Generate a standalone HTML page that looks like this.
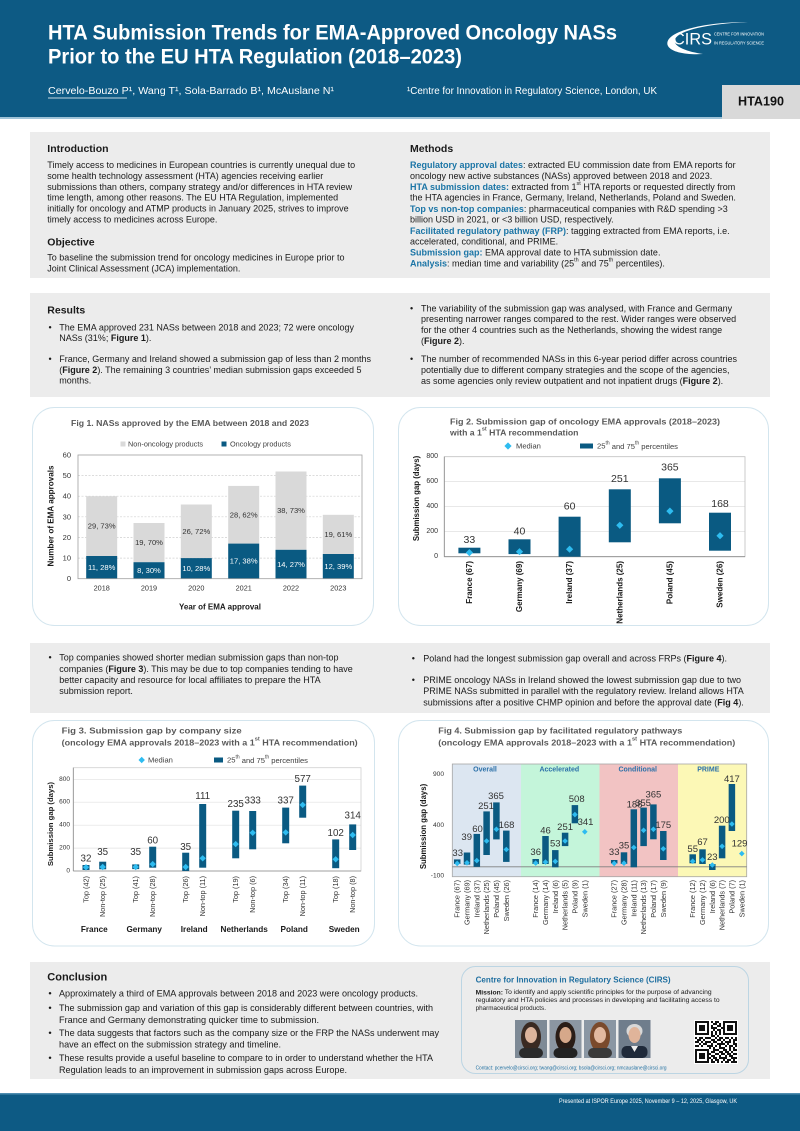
<!DOCTYPE html>
<html><head><meta charset="utf-8">
<style>
html,body{margin:0;padding:0;background:#fff;}
body{width:800px;height:1131px;overflow:hidden;}
svg{display:block;font-family:"Liberation Sans",Arial,sans-serif;}
text{dominant-baseline:central;}
</style></head><body>
<svg width="800" height="1131" viewBox="0 0 800 1131" xmlns="http://www.w3.org/2000/svg">
<defs>
<path id="d2" d="M0 -3.6L3.6 0L0 3.6L-3.6 0Z" fill="#2ebcf0"/>
<path id="d3" d="M0 -3.2L3.2 0L0 3.2L-3.2 0Z" fill="#2ebcf0"/>
<path id="d4" d="M0 -2.8L2.8 0L0 2.8L-2.8 0Z" fill="#2ebcf0"/>
</defs>

<!-- HEADER -->
<rect x="0" y="0" width="800" height="117" fill="#0d5a84"/>
<rect x="0" y="117" width="800" height="2" fill="#9fc3d8"/>
<text x="48" y="33" fill="#fff" font-size="21" font-weight="bold" textLength="569" lengthAdjust="spacingAndGlyphs">HTA Submission Trends for EMA-Approved Oncology NASs</text>
<text x="48" y="57" fill="#fff" font-size="21" font-weight="bold" textLength="414" lengthAdjust="spacingAndGlyphs">Prior to the EU HTA Regulation (2018–2023)</text>
<text x="48" y="91.5" fill="#fff" font-size="10" textLength="286" lengthAdjust="spacingAndGlyphs">Cervelo-Bouzo P¹, Wang T¹, Sola-Barrado B¹, McAuslane N¹</text>
<line x1="48" y1="98" x2="127" y2="98" stroke="#fff" stroke-width="0.7"/>
<text x="407" y="91.5" fill="#fff" font-size="10" textLength="250" lengthAdjust="spacingAndGlyphs">¹Centre for Innovation in Regulatory Science, London, UK</text>
<rect x="722" y="85" width="78" height="34" fill="#d9d9d9"/>
<text x="761" y="101.5" font-size="12.6" font-weight="bold" fill="#111" text-anchor="middle">HTA190</text>
<!-- CIRS logo -->
<path d="M748 22 C703 22 662 32 668 46 C672 53 689 55 703 54 C689 52 672 47 675 39 C680 30 707 24 748 22 Z" fill="#fff"/>
<text x="673" y="39" fill="#fff" font-size="17" textLength="39" lengthAdjust="spacingAndGlyphs">CIRS</text>
<text x="714" y="34" fill="#fff" font-size="4.6" textLength="50" lengthAdjust="spacingAndGlyphs">CENTRE FOR INNOVATION</text>
<text x="714" y="43" fill="#fff" font-size="4.6" textLength="50" lengthAdjust="spacingAndGlyphs">IN REGULATORY SCIENCE</text>

<!-- INTRO / METHODS -->
<rect x="30" y="132" width="740" height="146" fill="#ececec"/>
<g font-size="9" fill="#1a1a1a">
<text x="47.3" y="149" font-size="10.5" font-weight="bold">Introduction</text>
<text x="47.3" y="165">Timely access to medicines in European countries is currently unequal due to</text>
<text x="47.3" y="176">some health technology assessment (HTA) agencies receiving earlier</text>
<text x="47.3" y="187">submissions than others, company strategy and/or differences in HTA review</text>
<text x="47.3" y="197.7">time length, among other reasons. The EU HTA Regulation, implemented</text>
<text x="47.3" y="208.3">initially for oncology and ATMP products in January 2025, strives to improve</text>
<text x="47.3" y="219.3">timely access to medicines across Europe.</text>
<text x="47.3" y="242.7" font-size="10.5" font-weight="bold">Objective</text>
<text x="47.3" y="257.7">To baseline the submission trend for oncology medicines in Europe prior to</text>
<text x="47.3" y="268.3">Joint Clinical Assessment (JCA) implementation.</text>

<text x="410" y="149" font-size="10.5" font-weight="bold">Methods</text>
<text x="410" y="165"><tspan font-weight="bold" fill="#1b75a6">Regulatory approval dates</tspan>: extracted EU commission date from EMA reports for</text>
<text x="410" y="176">oncology new active substances (NASs) approved between 2018 and 2023.</text>
<text x="410" y="187"><tspan font-weight="bold" fill="#1b75a6">HTA submission dates:</tspan> extracted from 1<tspan font-size="5.5" dy="-3">st</tspan><tspan dy="3"> HTA reports or requested directly from</tspan></text>
<text x="410" y="197.7">the HTA agencies in France, Germany, Ireland, Netherlands, Poland and Sweden.</text>
<text x="410" y="209"><tspan font-weight="bold" fill="#1b75a6">Top vs non-top companies</tspan>: pharmaceutical companies with R&amp;D spending &gt;3</text>
<text x="410" y="219.3">billion USD in 2021, or &lt;3 billion USD, respectively.</text>
<text x="410" y="231"><tspan font-weight="bold" fill="#1b75a6">Facilitated regulatory pathway (FRP)</tspan>: tagging extracted from EMA reports, i.e.</text>
<text x="410" y="241.7">accelerated, conditional, and PRIME.</text>
<text x="410" y="252.3"><tspan font-weight="bold" fill="#1b75a6">Submission gap:</tspan> EMA approval date to HTA submission date.</text>
<text x="410" y="263.3"><tspan font-weight="bold" fill="#1b75a6">Analysis</tspan>: median time and variability (25<tspan font-size="5.5" dy="-3">th</tspan><tspan dy="3"> and 75</tspan><tspan font-size="5.5" dy="-3">th</tspan><tspan dy="3"> percentiles).</tspan></text>
</g>

<!-- RESULTS -->
<rect x="30" y="293" width="740" height="104" fill="#ececec"/>
<g font-size="9" fill="#1a1a1a">
<text x="47.3" y="310.7" font-size="10.5" font-weight="bold">Results</text>
<text x="48.5" y="327.3">•</text>
<text x="59.3" y="327.3">The EMA approved 231 NASs between 2018 and 2023; 72 were oncology</text>
<text x="59.3" y="338">NASs (31%; <tspan font-weight="bold">Figure 1</tspan>).</text>
<text x="48.5" y="359">•</text>
<text x="59.3" y="359">France, Germany and Ireland showed a submission gap of less than 2 months</text>
<text x="59.3" y="370">(<tspan font-weight="bold">Figure 2</tspan>). The remaining 3 countries’ median submission gaps exceeded 5</text>
<text x="59.3" y="380.7">months.</text>

<text x="410" y="308.3">•</text>
<text x="421" y="308.3">The variability of the submission gap was analysed, with France and Germany</text>
<text x="421" y="319">presenting narrower ranges compared to the rest. Wider ranges were observed</text>
<text x="421" y="330">for the other 4 countries such as the Netherlands, showing the widest range</text>
<text x="421" y="341">(<tspan font-weight="bold">Figure 2</tspan>).</text>
<text x="410" y="359">•</text>
<text x="421" y="359">The number of recommended NASs in this 6-year period differ across countries</text>
<text x="421" y="370">potentially due to different company strategies and the scope of the agencies,</text>
<text x="421" y="381">as some agencies only review outpatient and not inpatient drugs (<tspan font-weight="bold">Figure 2</tspan>).</text>
</g>

<!-- FIG 1 -->
<rect x="32.5" y="407.5" width="341" height="218" rx="22" fill="none" stroke="#d3e5ee"/>
<text x="71" y="423" font-size="8.7" font-weight="bold" fill="#595959" textLength="238" lengthAdjust="spacingAndGlyphs">Fig 1. NASs approved by the EMA between 2018 and 2023</text>
<rect x="120.5" y="441.5" width="5" height="5" fill="#d9d9d9"/>
<text x="128" y="444" font-size="7.3" fill="#404040">Non-oncology products</text>
<rect x="221.5" y="441.5" width="5" height="5" fill="#0a5a82"/>
<text x="230" y="444" font-size="7.3" fill="#404040">Oncology products</text>
<g stroke="#d0d0d0" stroke-width="0.7" stroke-dasharray="2,1.5">
<line x1="78" y1="475.6" x2="362" y2="475.6"/>
<line x1="78" y1="496.2" x2="362" y2="496.2"/>
<line x1="78" y1="516.8" x2="362" y2="516.8"/>
<line x1="78" y1="537.5" x2="362" y2="537.5"/>
<line x1="78" y1="558.1" x2="362" y2="558.1"/>
</g>
<g fill="#d9d9d9">
<rect x="86.2" y="496.2" width="31" height="59.8"/>
<rect x="133.5" y="523.0" width="31" height="39.2"/>
<rect x="180.8" y="504.5" width="31" height="53.6"/>
<rect x="228.2" y="485.9" width="31" height="57.7"/>
<rect x="275.5" y="471.5" width="31" height="78.3"/>
<rect x="322.8" y="514.8" width="31" height="39.2"/>
</g>
<g fill="#0a5a82">
<rect x="86.2" y="556.0" width="31" height="22.7"/>
<rect x="133.5" y="562.2" width="31" height="16.5"/>
<rect x="180.8" y="558.1" width="31" height="20.6"/>
<rect x="228.2" y="543.6" width="31" height="35.1"/>
<rect x="275.5" y="549.8" width="31" height="28.9"/>
<rect x="322.8" y="554.0" width="31" height="24.7"/>
</g>
<rect x="78" y="455" width="284" height="123.7" fill="none" stroke="#a0a0a0" stroke-width="0.8"/>
<g font-size="7.6" text-anchor="middle" fill="#333">
<text x="101.7" y="526.1">29, 73%</text>
<text x="149" y="542.6">19, 70%</text>
<text x="196.3" y="531.3">26, 72%</text>
<text x="243.7" y="514.8">28, 62%</text>
<text x="291" y="510.7">38, 73%</text>
<text x="338.3" y="534.4">19, 61%</text>
</g>
<g font-size="7.6" text-anchor="middle" fill="#fff">
<text x="101.7" y="567.4">11, 28%</text>
<text x="149" y="570.5">8, 30%</text>
<text x="196.3" y="568.4">10, 28%</text>
<text x="243.7" y="561.2">17, 38%</text>
<text x="291" y="564.3">14, 27%</text>
<text x="338.3" y="566.3">12, 39%</text>
</g>
<g font-size="7.5" text-anchor="end" fill="#333">
<text x="71" y="455">60</text><text x="71" y="475.6">50</text><text x="71" y="496.2">40</text>
<text x="71" y="516.8">30</text><text x="71" y="537.5">20</text><text x="71" y="558.1">10</text><text x="71" y="578.7">0</text>
</g>
<g font-size="7.3" text-anchor="middle" fill="#333">
<text x="101.7" y="588">2018</text><text x="149" y="588">2019</text><text x="196.3" y="588">2020</text>
<text x="243.7" y="588">2021</text><text x="291" y="588">2022</text><text x="338.3" y="588">2023</text>
</g>
<text x="220" y="607" font-size="8" font-weight="bold" text-anchor="middle" fill="#1a1a1a">Year of EMA approval</text>
<text transform="translate(51,516) rotate(-90)" font-size="8.1" font-weight="bold" text-anchor="middle" fill="#1a1a1a">Number of EMA approvals</text>

<!-- FIG 2 -->
<rect x="398.5" y="407.5" width="370" height="218" rx="22" fill="none" stroke="#d3e5ee"/>
<text x="450" y="421.7" font-size="8.7" font-weight="bold" fill="#595959" textLength="270" lengthAdjust="spacingAndGlyphs">Fig 2. Submission gap of oncology EMA approvals (2018–2023)</text>
<text x="450" y="432.3" font-size="8.7" font-weight="bold" fill="#595959">with a 1<tspan font-size="5.5" dy="-3">st</tspan><tspan dy="3"> HTA recommendation</tspan></text>
<use href="#d2" x="508" y="446"/>
<text x="516" y="446" font-size="7.6" fill="#404040">Median</text>
<rect x="580" y="443.5" width="13" height="5" fill="#0a5a82"/>
<text x="597" y="446" font-size="7.6" fill="#404040">25<tspan font-size="5" dy="-2.5">th</tspan><tspan dy="2.5"> and 75</tspan><tspan font-size="5" dy="-2.5">th</tspan><tspan dy="2.5"> percentiles</tspan></text>
<g stroke="#dadada" stroke-width="0.7">
<line x1="444.3" y1="481.7" x2="745" y2="481.7"/>
<line x1="444.3" y1="506.7" x2="745" y2="506.7"/>
<line x1="444.3" y1="531.7" x2="745" y2="531.7"/>
</g>
<rect x="444.3" y="456.7" width="300.7" height="100" fill="none" stroke="#bfbfbf" stroke-width="0.8"/>
<line x1="444.3" y1="456.7" x2="444.3" y2="556.7" stroke="#8c8c8c" stroke-width="0.8"/>
<line x1="444.3" y1="556.7" x2="745" y2="556.7" stroke="#8c8c8c" stroke-width="0.8"/>
<g fill="#0a5a82">
<rect x="458.4" y="547.7" width="22" height="5.6"/>
<rect x="508.5" y="539.3" width="22" height="14.8"/>
<rect x="558.6" y="516.7" width="22" height="40"/>
<rect x="608.8" y="489.3" width="22" height="53"/>
<rect x="658.9" y="478.3" width="22" height="45"/>
<rect x="709" y="512.7" width="22" height="38"/>
</g>
<use href="#d2" x="469.4" y="552.6"/><use href="#d2" x="519.5" y="551.7"/><use href="#d2" x="569.6" y="549.2"/>
<use href="#d2" x="619.8" y="525.3"/><use href="#d2" x="669.9" y="511.1"/><use href="#d2" x="720" y="535.7"/>
<g font-size="10.5" text-anchor="middle" fill="#333">
<text x="469.4" y="540">33</text><text x="519.5" y="531.7">40</text><text x="569.6" y="506.7">60</text>
<text x="619.8" y="479">251</text><text x="669.9" y="467.7">365</text><text x="720" y="504">168</text>
</g>
<g font-size="7" text-anchor="end" fill="#333">
<text x="438" y="456.7">800</text><text x="438" y="481.7">600</text><text x="438" y="506.7">400</text><text x="438" y="531.7">200</text><text x="438" y="556.7">0</text>
</g>
<g font-size="8" font-weight="bold" text-anchor="end" fill="#1a1a1a">
<text transform="translate(469.4,561) rotate(-90)">France (67)</text>
<text transform="translate(519.5,561) rotate(-90)">Germany (69)</text>
<text transform="translate(569.6,561) rotate(-90)">Ireland (37)</text>
<text transform="translate(619.8,561) rotate(-90)">Netherlands (25)</text>
<text transform="translate(669.9,561) rotate(-90)">Poland (45)</text>
<text transform="translate(720,561) rotate(-90)">Sweden (26)</text>
</g>
<text transform="translate(416.7,498.5) rotate(-90)" font-size="7.8" font-weight="bold" text-anchor="middle" fill="#1a1a1a">Submission gap (days)</text>

<!-- MIDDLE TEXT BAND -->
<rect x="30" y="643" width="740" height="70" fill="#ececec"/>
<g font-size="9" fill="#1a1a1a">
<text x="48.5" y="657.3">•</text>
<text x="59.3" y="657.3">Top companies showed shorter median submission gaps than non-top</text>
<text x="59.3" y="669">companies (<tspan font-weight="bold">Figure 3</tspan>). This may be due to top companies tending to have</text>
<text x="59.3" y="680">better capacity and resource for local affiliates to prepare the HTA</text>
<text x="59.3" y="691">submission report.</text>
<text x="411.7" y="658.3">•</text>
<text x="423.3" y="658.3">Poland had the longest submission gap overall and across FRPs (<tspan font-weight="bold">Figure 4</tspan>).</text>
<text x="411.7" y="680">•</text>
<text x="423.3" y="680">PRIME oncology NASs in Ireland showed the lowest submission gap due to two</text>
<text x="423.3" y="691">PRIME NASs submitted in parallel with the regulatory review. Ireland allows HTA</text>
<text x="423.3" y="702.7">submissions after a positive CHMP opinion and before the approval date (<tspan font-weight="bold">Fig 4</tspan>).</text>
</g>

<!-- FIG 3 -->
<rect x="32.5" y="720.5" width="342" height="225.5" rx="22" fill="none" stroke="#d3e5ee"/>
<text x="61.7" y="730.7" font-size="8.7" font-weight="bold" fill="#595959" textLength="180" lengthAdjust="spacingAndGlyphs">Fig 3. Submission gap by company size</text>
<text x="61.7" y="742.7" font-size="8.7" font-weight="bold" fill="#595959" textLength="296" lengthAdjust="spacingAndGlyphs">(oncology EMA approvals 2018–2023 with a 1<tspan font-size="5.5" dy="-3">st</tspan><tspan dy="3"> HTA recommendation)</tspan></text>
<use href="#d3" x="141.7" y="760"/>
<text x="148" y="760" font-size="7.6" fill="#404040">Median</text>
<rect x="214" y="757.5" width="9" height="5" fill="#0a5a82"/>
<text x="227" y="760" font-size="7.6" fill="#404040">25<tspan font-size="5" dy="-2.5">th</tspan><tspan dy="2.5"> and 75</tspan><tspan font-size="5" dy="-2.5">th</tspan><tspan dy="2.5"> percentiles</tspan></text>
<g stroke="#e0e0e0" stroke-width="0.7">
<line x1="73.3" y1="779.3" x2="361" y2="779.3"/>
<line x1="73.3" y1="802.2" x2="361" y2="802.2"/>
<line x1="73.3" y1="825.2" x2="361" y2="825.2"/>
<line x1="73.3" y1="848.1" x2="361" y2="848.1"/>
</g>
<rect x="73.3" y="767.7" width="287.7" height="103.3" fill="none" stroke="#cfcfcf" stroke-width="0.8"/>
<line x1="73.3" y1="767.7" x2="73.3" y2="871" stroke="#8c8c8c" stroke-width="0.8"/>
<line x1="73.3" y1="871" x2="361" y2="871" stroke="#8c8c8c" stroke-width="0.8"/>
<g fill="#0a5a82">
<rect x="82.5" y="865.0" width="7" height="5"/>
<rect x="99.2" y="861.7" width="7" height="7.6"/>
<rect x="132.2" y="864.4" width="7" height="4.7"/>
<rect x="149.2" y="846.7" width="7" height="21"/>
<rect x="182.2" y="852.7" width="7" height="18.3"/>
<rect x="199.2" y="804.0" width="7" height="63.7"/>
<rect x="232.2" y="810.7" width="7" height="47.6"/>
<rect x="249.2" y="811.0" width="7" height="38.3"/>
<rect x="282.2" y="807.6" width="7" height="35.7"/>
<rect x="299.2" y="785.6" width="7" height="32.1"/>
<rect x="332.2" y="839.4" width="7" height="28.8"/>
<rect x="349.2" y="824.4" width="7" height="25.6"/>
</g>
<use href="#d3" x="86" y="867.3"/><use href="#d3" x="102.7" y="867"/>
<use href="#d3" x="135.7" y="867"/><use href="#d3" x="152.7" y="864.1"/>
<use href="#d3" x="185.7" y="867"/><use href="#d3" x="202.7" y="858.3"/>
<use href="#d3" x="235.7" y="844.1"/><use href="#d3" x="252.7" y="832.8"/>
<use href="#d3" x="285.7" y="832.4"/><use href="#d3" x="302.7" y="804.9"/>
<use href="#d3" x="335.7" y="859.3"/><use href="#d3" x="352.7" y="835"/>
<g font-size="9.8" text-anchor="middle" fill="#333">
<text x="86" y="859">32</text><text x="102.7" y="852.3">35</text>
<text x="135.7" y="852.3">35</text><text x="152.7" y="841">60</text>
<text x="185.7" y="847.7">35</text><text x="202.7" y="796.7">111</text>
<text x="235.7" y="804.3">235</text><text x="252.7" y="801">333</text>
<text x="285.7" y="801">337</text><text x="302.7" y="779.3">577</text>
<text x="335.7" y="833.3">102</text><text x="352.7" y="816">314</text>
</g>
<g font-size="6.5" text-anchor="end" fill="#333">
<text x="70" y="779.3">800</text><text x="70" y="802.2">600</text><text x="70" y="825.2">400</text><text x="70" y="848.1">200</text><text x="70" y="871">0</text>
</g>
<g font-size="7.3" text-anchor="end" fill="#333">
<text transform="translate(86,876) rotate(-90)">Top (42)</text>
<text transform="translate(102.7,876) rotate(-90)">Non-top (25)</text>
<text transform="translate(135.7,876) rotate(-90)">Top (41)</text>
<text transform="translate(152.7,876) rotate(-90)">Non-top (28)</text>
<text transform="translate(185.7,876) rotate(-90)">Top (26)</text>
<text transform="translate(202.7,876) rotate(-90)">Non-top (11)</text>
<text transform="translate(235.7,876) rotate(-90)">Top (19)</text>
<text transform="translate(252.7,876) rotate(-90)">Non-top (6)</text>
<text transform="translate(285.7,876) rotate(-90)">Top (34)</text>
<text transform="translate(302.7,876) rotate(-90)">Non-top (11)</text>
<text transform="translate(335.7,876) rotate(-90)">Top (18)</text>
<text transform="translate(352.7,876) rotate(-90)">Non-top (8)</text>
</g>
<g font-size="8.2" font-weight="bold" text-anchor="middle" fill="#1a1a1a">
<text x="94.3" y="929.3">France</text><text x="144.2" y="929.3">Germany</text><text x="194.2" y="929.3">Ireland</text>
<text x="244.2" y="929.3">Netherlands</text><text x="294.2" y="929.3">Poland</text><text x="344.2" y="929.3">Sweden</text>
</g>
<text transform="translate(50.7,824) rotate(-90)" font-size="7.7" font-weight="bold" text-anchor="middle" fill="#1a1a1a">Submission gap (days)</text>

<!-- FIG 4 -->
<rect x="398.5" y="720.5" width="370" height="225.5" rx="22" fill="none" stroke="#d3e5ee"/>
<text x="438.3" y="730.7" font-size="8.7" font-weight="bold" fill="#595959" textLength="244" lengthAdjust="spacingAndGlyphs">Fig 4. Submission gap by facilitated regulatory pathways</text>
<text x="438.3" y="742.7" font-size="8.7" font-weight="bold" fill="#595959" textLength="297" lengthAdjust="spacingAndGlyphs">(oncology EMA approvals 2018–2023 with a 1<tspan font-size="5.5" dy="-3">st</tspan><tspan dy="3"> HTA recommendation)</tspan></text>
<rect x="452.3" y="764" width="68.7" height="112.7" fill="#dce6f1"/>
<rect x="521" y="764" width="78.5" height="112.7" fill="#c4f5da"/>
<rect x="599.5" y="764" width="78.5" height="112.7" fill="#f2c3c3"/>
<rect x="678" y="764" width="68.7" height="112.7" fill="#fcf8b6"/>
<rect x="452.3" y="764" width="294.4" height="112.7" fill="none" stroke="#a6a6a6" stroke-width="0.8"/>
<line x1="452.3" y1="866.8" x2="746.7" y2="866.8" stroke="#7f7f7f" stroke-width="0.8"/>
<g font-size="7" font-weight="bold" text-anchor="middle" fill="#2b70a8">
<text x="485" y="770">Overall</text><text x="559.3" y="770">Accelerated</text><text x="637.7" y="770">Conditional</text><text x="708.3" y="770">PRIME</text>
</g>
<g fill="#0a5a82">
<rect x="453.95" y="859.4" width="6.5" height="4.6"/>
<rect x="463.75" y="852.5" width="6.5" height="12.1"/>
<rect x="473.55" y="833.9" width="6.5" height="32.9"/>
<rect x="483.35" y="811.4" width="6.5" height="43.6"/>
<rect x="493.15" y="802.4" width="6.5" height="37"/>
<rect x="503.05" y="830.6" width="6.5" height="31.3"/>
<rect x="532.45" y="859" width="6.5" height="5"/>
<rect x="542.25" y="836" width="6.5" height="28"/>
<rect x="552.05" y="850.1" width="6.5" height="17.2"/>
<rect x="561.85" y="832.7" width="6.5" height="13.4"/>
<rect x="571.65" y="805.1" width="6.5" height="18.2"/>
<rect x="610.95" y="860" width="6.5" height="3.5"/>
<rect x="620.75" y="852.3" width="6.5" height="11.7"/>
<rect x="630.55" y="809.3" width="6.5" height="58"/>
<rect x="640.35" y="807.6" width="6.5" height="38.5"/>
<rect x="650.15" y="804.4" width="6.5" height="34.9"/>
<rect x="660.05" y="831" width="6.5" height="29"/>
<rect x="689.45" y="854.3" width="6.5" height="9"/>
<rect x="699.25" y="849.3" width="6.5" height="14.7"/>
<rect x="709.05" y="864" width="6.5" height="6"/>
<rect x="718.85" y="825.7" width="6.5" height="32.6"/>
<rect x="728.65" y="784" width="6.5" height="47"/>
</g>
<use href="#d4" x="457.2" y="863.4"/><use href="#d4" x="467" y="862.8"/><use href="#d4" x="476.8" y="860.6"/>
<use href="#d4" x="486.6" y="841"/><use href="#d4" x="496.4" y="829.3"/><use href="#d4" x="506.3" y="849.5"/>
<use href="#d4" x="535.7" y="863.1"/><use href="#d4" x="545.5" y="862.1"/><use href="#d4" x="555.3" y="861.4"/>
<use href="#d4" x="565.1" y="841"/><use href="#d4" x="574.9" y="814.6"/><use href="#d4" x="584.8" y="831.8"/>
<use href="#d4" x="614.2" y="863.4"/><use href="#d4" x="624" y="863.2"/><use href="#d4" x="633.8" y="847.5"/>
<use href="#d4" x="643.6" y="830.3"/><use href="#d4" x="653.4" y="829.3"/><use href="#d4" x="663.3" y="848.8"/>
<use href="#d4" x="692.7" y="861.2"/><use href="#d4" x="702.5" y="859.9"/><use href="#d4" x="712.3" y="865"/>
<use href="#d4" x="722.1" y="846.3"/><use href="#d4" x="731.9" y="824"/><use href="#d4" x="741.8" y="853.6"/>
<g font-size="9.5" text-anchor="middle" fill="#333">
<text x="457.7" y="853.3">33</text><text x="466.7" y="837.7">39</text><text x="477.5" y="829.3">60</text>
<text x="486" y="806.7">251</text><text x="496" y="796.7">365</text><text x="506.5" y="825.7">168</text>
<text x="535.7" y="852.3">36</text><text x="545.5" y="831">46</text><text x="555.3" y="844">53</text>
<text x="565.1" y="827.3">251</text><text x="576.7" y="799.3">508</text><text x="585.5" y="822.7">341</text>
<text x="614.2" y="852.3">33</text><text x="624" y="846">35</text><text x="634.5" y="805">188</text>
<text x="643" y="803.3">355</text><text x="653.4" y="795">365</text><text x="663.3" y="825.7">175</text>
<text x="692.7" y="849.3">55</text><text x="702.5" y="842.3">67</text><text x="712.3" y="857.7">23</text>
<text x="721.8" y="820.7">200</text><text x="731.9" y="779.3">417</text><text x="739.5" y="844">129</text>
</g>
<g font-size="6.6" text-anchor="end" fill="#333">
<text x="444" y="774.3">900</text><text x="444" y="825.7">400</text><text x="444" y="876">-100</text>
</g>
<g font-size="7.3" text-anchor="end" fill="#333">
<text transform="translate(457.2,880) rotate(-90)">France (67)</text>
<text transform="translate(467,880) rotate(-90)">Germany (69)</text>
<text transform="translate(476.8,880) rotate(-90)">Ireland (37)</text>
<text transform="translate(486.6,880) rotate(-90)">Netherlands (25)</text>
<text transform="translate(496.4,880) rotate(-90)">Poland (45)</text>
<text transform="translate(506.3,880) rotate(-90)">Sweden (26)</text>
<text transform="translate(535.7,880) rotate(-90)">France (14)</text>
<text transform="translate(545.5,880) rotate(-90)">Germany (14)</text>
<text transform="translate(555.3,880) rotate(-90)">Ireland (6)</text>
<text transform="translate(565.1,880) rotate(-90)">Netherlands (5)</text>
<text transform="translate(574.9,880) rotate(-90)">Poland (9)</text>
<text transform="translate(584.8,880) rotate(-90)">Sweden (1)</text>
<text transform="translate(614.2,880) rotate(-90)">France (27)</text>
<text transform="translate(624,880) rotate(-90)">Germany (28)</text>
<text transform="translate(633.8,880) rotate(-90)">Ireland (11)</text>
<text transform="translate(643.6,880) rotate(-90)">Netherlands (13)</text>
<text transform="translate(653.4,880) rotate(-90)">Poland (17)</text>
<text transform="translate(663.3,880) rotate(-90)">Sweden (9)</text>
<text transform="translate(692.7,880) rotate(-90)">France (12)</text>
<text transform="translate(702.5,880) rotate(-90)">Germany (12)</text>
<text transform="translate(712.3,880) rotate(-90)">Ireland (6)</text>
<text transform="translate(722.1,880) rotate(-90)">Netherlands (7)</text>
<text transform="translate(731.9,880) rotate(-90)">Poland (7)</text>
<text transform="translate(741.8,880) rotate(-90)">Sweden (1)</text>
</g>
<text transform="translate(423.3,826.5) rotate(-90)" font-size="7.8" font-weight="bold" text-anchor="middle" fill="#1a1a1a">Submission gap (days)</text>

<!-- CONCLUSION -->
<rect x="30" y="962" width="740" height="117" fill="#ececec"/>
<g font-size="9.4" fill="#1a1a1a">
<text x="47.3" y="977.3" font-size="11" font-weight="bold">Conclusion</text>
<text x="48.4" y="993">•</text>
<text x="59" y="993" textLength="359" lengthAdjust="spacingAndGlyphs">Approximately a third of EMA approvals between 2018 and 2023 were oncology products.</text>
<text x="48.4" y="1007.3">•</text>
<text x="59" y="1007.3" textLength="374" lengthAdjust="spacingAndGlyphs">The submission gap and variation of this gap is considerably different between countries, with</text>
<text x="59" y="1019.3" textLength="260" lengthAdjust="spacingAndGlyphs">France and Germany demonstrating quicker time to submission.</text>
<text x="48.4" y="1032.7">•</text>
<text x="59" y="1032.7" textLength="380" lengthAdjust="spacingAndGlyphs">The data suggests that factors such as the company size or the FRP the NASs underwent may</text>
<text x="59" y="1044" textLength="222" lengthAdjust="spacingAndGlyphs">have an effect on the submission strategy and timeline.</text>
<text x="48.4" y="1057.7">•</text>
<text x="59" y="1057.7" textLength="374" lengthAdjust="spacingAndGlyphs">These results provide a useful baseline to compare to in order to understand whether the HTA</text>
<text x="59" y="1069.3" textLength="288" lengthAdjust="spacingAndGlyphs">Regulation leads to an improvement in submission gaps across Europe.</text>
</g>
<!-- CIRS card -->
<rect x="461.5" y="966.5" width="287" height="107" rx="14" fill="none" stroke="#bcd5e3"/>
<text x="475.6" y="979.3" font-size="8.5" font-weight="bold" fill="#1f6fa0" textLength="195" lengthAdjust="spacingAndGlyphs">Centre for Innovation in Regulatory Science (CIRS)</text>
<g font-size="6.3" fill="#1a1a1a">
<text x="475.6" y="992.3" textLength="236" lengthAdjust="spacingAndGlyphs"><tspan font-weight="bold">Mission:</tspan> To identify and apply scientific principles for the purpose of advancing</text>
<text x="475.6" y="1000.3" textLength="244" lengthAdjust="spacingAndGlyphs">regulatory and HTA policies and processes in developing and facilitating access to</text>
<text x="475.6" y="1008.3">pharmaceutical products.</text>
</g>
<!-- photos -->
<g>
<rect x="515" y="1020" width="32" height="38" fill="#7e8a96"/>
<ellipse cx="531" cy="1037" rx="10" ry="15" fill="#3a2a22"/>
<ellipse cx="531" cy="1035" rx="6" ry="8" fill="#dcb49c"/>
<rect x="519" y="1048" width="24" height="10" rx="5" fill="#2b2b2b"/>
<rect x="549.5" y="1020" width="32" height="38" fill="#8b96a2"/>
<ellipse cx="565.5" cy="1037" rx="10" ry="15" fill="#2a1d17"/>
<ellipse cx="565.5" cy="1035" rx="6" ry="8" fill="#d6a88a"/>
<rect x="553.5" y="1048" width="24" height="10" rx="5" fill="#222"/>
<rect x="584" y="1020" width="32" height="38" fill="#8a96a3"/>
<ellipse cx="600" cy="1037" rx="10" ry="15" fill="#7a4a2c"/>
<ellipse cx="600" cy="1035" rx="6" ry="8" fill="#e2b9a0"/>
<rect x="588" y="1048" width="24" height="10" rx="5" fill="#3a3a3a"/>
<rect x="618.5" y="1020" width="32" height="38" fill="#6f7d8c"/>
<ellipse cx="634.5" cy="1031" rx="8" ry="7" fill="#d8d8d8"/>
<ellipse cx="634.5" cy="1035" rx="6" ry="8" fill="#e0b49a"/>
<rect x="621.5" y="1046" width="26" height="12" rx="5" fill="#1f2a3a"/>
<path d="M631 1046 L634.5 1052 L638 1046 Z" fill="#eee"/>
</g>
<!-- QR -->
<rect x="694" y="1020" width="44" height="44" fill="#fff"/>
<g transform="translate(695,1021) scale(2)" fill="#111">
<path d="M0 0h7v1h-7zM8 0h1v1h-1zM10 0h2v1h-2zM14 0h7v1h-7z
M0 1h1v1h-1zM6 1h1v1h-1zM9 1h2v1h-2zM12 1h1v1h-1zM14 1h1v1h-1zM20 1h1v1h-1z
M0 2h1v1h-1zM2 2h3v1h-3zM6 2h1v1h-1zM8 2h1v1h-1zM11 2h2v1h-2zM14 2h1v1h-1zM16 2h3v1h-3zM20 2h1v1h-1z
M0 3h1v1h-1zM2 3h3v1h-3zM6 3h1v1h-1zM8 3h3v1h-3zM13 3h2v1h-2zM16 3h3v1h-3zM20 3h1v1h-1z
M0 4h1v1h-1zM2 4h3v1h-3zM6 4h1v1h-1zM9 4h1v1h-1zM11 4h2v1h-2zM14 4h1v1h-1zM16 4h3v1h-3zM20 4h1v1h-1z
M0 5h1v1h-1zM6 5h1v1h-1zM8 5h1v1h-1zM10 5h1v1h-1zM12 5h1v1h-1zM14 5h1v1h-1zM20 5h1v1h-1z
M0 6h7v1h-7zM8 6h1v1h-1zM10 6h1v1h-1zM12 6h1v1h-1zM14 6h7v1h-7z
M8 7h2v1h-2zM11 7h1v1h-1z
M0 8h1v1h-1zM2 8h2v1h-2zM5 8h3v1h-3zM10 8h1v1h-1zM12 8h2v1h-2zM15 8h2v1h-2zM18 8h1v1h-1zM20 8h1v1h-1z
M1 9h2v1h-2zM4 9h1v1h-1zM8 9h2v1h-2zM11 9h2v1h-2zM14 9h1v1h-1zM17 9h1v1h-1zM19 9h2v1h-2z
M0 10h2v1h-2zM3 10h1v1h-1zM5 10h3v1h-3zM9 10h2v1h-2zM13 10h1v1h-1zM15 10h3v1h-3zM19 10h1v1h-1z
M2 11h1v1h-1zM4 11h2v1h-2zM8 11h1v1h-1zM11 11h4v1h-4zM16 11h1v1h-1zM19 11h2v1h-2z
M0 12h2v1h-2zM3 12h1v1h-1zM6 12h3v1h-3zM10 12h1v1h-1zM12 12h1v1h-1zM15 12h1v1h-1zM17 12h2v1h-2zM20 12h1v1h-1z
M7 13h1v1h-1zM9 13h1v1h-1zM12 13h3v1h-3zM17 13h1v1h-1zM19 13h1v1h-1z
M0 14h7v1h-7zM9 14h3v1h-3zM14 14h2v1h-2zM17 14h1v1h-1zM19 14h2v1h-2z
M0 15h1v1h-1zM6 15h1v1h-1zM8 15h2v1h-2zM12 15h2v1h-2zM15 15h2v1h-2zM18 15h1v1h-1z
M0 16h1v1h-1zM2 16h3v1h-3zM6 16h2v1h-2zM10 16h2v1h-2zM13 16h2v1h-2zM16 16h2v1h-2zM19 16h2v1h-2z
M0 17h1v1h-1zM2 17h3v1h-3zM6 17h1v1h-1zM8 17h2v1h-2zM12 17h1v1h-1zM15 17h1v1h-1zM17 17h2v1h-2z
M0 18h1v1h-1zM2 18h3v1h-3zM6 18h2v1h-2zM9 18h2v1h-2zM12 18h4v1h-4zM18 18h3v1h-3z
M0 19h1v1h-1zM6 19h1v1h-1zM8 19h1v1h-1zM10 19h2v1h-2zM14 19h1v1h-1zM16 19h2v1h-2zM19 19h1v1h-1z
M0 20h7v1h-7zM8 20h2v1h-2zM11 20h1v1h-1zM13 20h1v1h-1zM15 20h2v1h-2zM18 20h3v1h-3z"/>
</g>
<text x="475.6" y="1068.3" font-size="5" fill="#1f6fa0" textLength="191" lengthAdjust="spacingAndGlyphs">Contact: pcervelo@cirsci.org;  twang@cirsci.org; bsola@cirsci.org; nmcauslane@cirsci.org</text>

<!-- FOOTER -->
<rect x="0" y="1093" width="800" height="38" fill="#0d5a84"/>
<rect x="0" y="1093" width="800" height="1.5" fill="#4f8db0"/>
<text x="737" y="1102" font-size="6" fill="#fff" text-anchor="end" textLength="178" lengthAdjust="spacingAndGlyphs">Presented at ISPOR Europe 2025, November 9 – 12, 2025, Glasgow, UK</text>
</svg>
</body></html>
